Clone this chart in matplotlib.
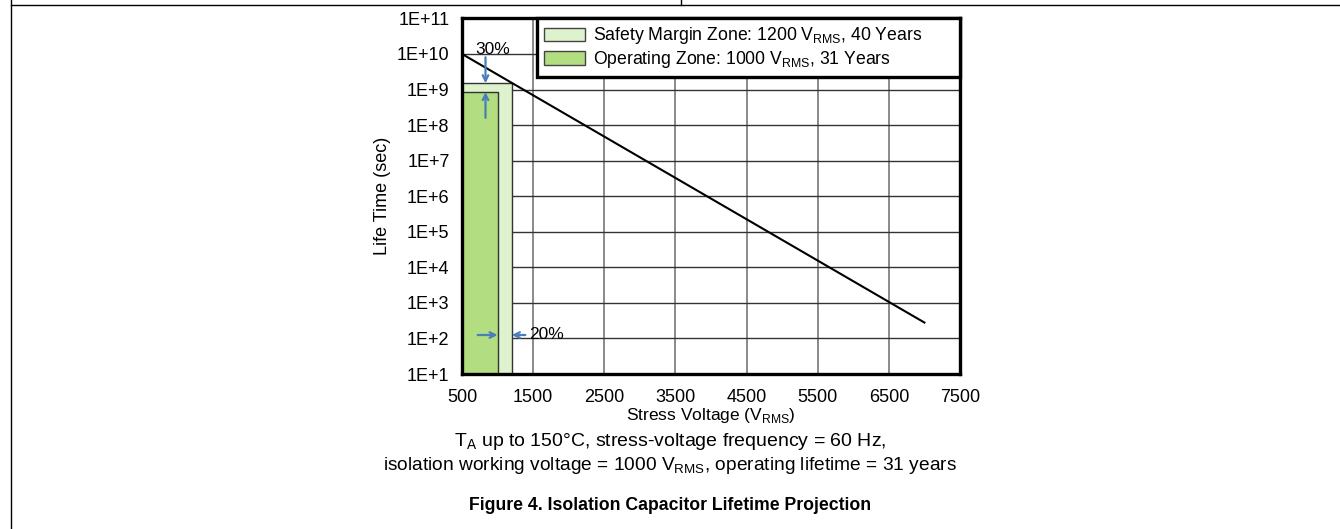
import matplotlib
matplotlib.use("Agg")
import matplotlib.pyplot as plt
from matplotlib.patches import Patch
from matplotlib.lines import Line2D

plt.rcParams['font.family'] = ['Liberation Sans', 'DejaVu Sans']
plt.rcParams['mathtext.fontset'] = 'custom'
plt.rcParams['mathtext.rm'] = 'Liberation Sans'

# projected lifetime line (stress voltage in V_RMS, lifetime in seconds)
line_volts = [500, 7000]
line_life = [1e10, 2.8e2]

# zones drawn as filled boxes from the bottom of the axis
zone_names = ['Safety Margin Zone: 1200 V$_\\mathregular{RMS}$, 40 Years',
              'Operating Zone: 1000 V$_\\mathregular{RMS}$, 31 Years']
zone_volts = [1200, 1000]
zone_life = [1.5e9, 8.5e8]
zone_colors = ['#ddf2cd', '#b2dd80']

x_ticks = [500, 1500, 2500, 3500, 4500, 5500, 6500, 7500]
y_ticks = [1e1, 1e2, 1e3, 1e4, 1e5, 1e6, 1e7, 1e8, 1e9, 1e10, 1e11]
y_tick_labels = ['1E+1', '1E+2', '1E+3', '1E+4', '1E+5', '1E+6',
                 '1E+7', '1E+8', '1E+9', '1E+10', '1E+11']

fig = plt.figure(figsize=(13.4, 5.29), dpi=100)
ax = fig.add_axes([0.3448, 0.2930, 0.3716, 0.6722])
ax.set_yscale('log')
ax.set_xlim(500, 7500)
ax.set_ylim(1e1, 1e11)

# grid: grey verticals, dark horizontals
for xv in x_ticks[1:-1]:
    ax.axvline(xv, color='#8a8a8a', lw=1.4, zorder=1)
for yv in y_ticks[1:-1]:
    ax.axhline(yv, color='#333333', lw=1.0, zorder=1)

for v, life, c in zip(zone_volts, zone_life, zone_colors):
    ax.fill_between([500, v], 1e1, life, facecolor=c, edgecolor='#333333',
                    lw=1.0, zorder=2)

ax.plot(line_volts, line_life, color='black', lw=1.5, zorder=4)

arrow = dict(arrowstyle='->', color='#4a7ebb', lw=1.6, shrinkA=0, shrinkB=0)
ax.annotate('', xy=(830, zone_life[0]), xytext=(830, 8.1e9), arrowprops=arrow, zorder=5)
ax.annotate('', xy=(830, zone_life[1]), xytext=(830, 1.6e8), arrowprops=arrow, zorder=5)
ax.text(930, 1.3e10, '30%', ha='center', va='center', fontsize=12.5)
ax.annotate('', xy=(zone_volts[1], 125), xytext=(720, 125), arrowprops=arrow, zorder=5)
ax.annotate('', xy=(zone_volts[0], 125), xytext=(1390, 125), arrowprops=arrow, zorder=5)
ax.text(1450, 125, '20%', ha='left', va='center', fontsize=12.5)

ax.set_xticks(x_ticks)
ax.set_yticks(y_ticks)
ax.set_yticklabels(y_tick_labels)
ax.minorticks_off()
ax.tick_params(length=0, labelsize=13)
ax.tick_params(axis='x', pad=11)
ax.tick_params(axis='y', pad=9)
for s in ax.spines.values():
    s.set_linewidth(2.4)
    s.set_zorder(6)

ax.set_xlabel('Stress Voltage (V$_\\mathregular{RMS}$)', fontsize=12.5, labelpad=0)
ax.set_ylabel('Life Time (sec)', fontsize=13, labelpad=4)

handles = [Patch(facecolor=c, edgecolor='#444444', lw=1.0) for c in zone_colors]
leg = ax.legend(handles, zone_names, loc='upper left', mode='expand',
                bbox_to_anchor=(0.1506, 0.838, 0.8494, 0.162), borderaxespad=0,
                fontsize=12.7, fancybox=False, framealpha=1, edgecolor='black',
                handlelength=2.3, handleheight=0.8, labelspacing=0.15,
                borderpad=0.4, handletextpad=0.5)
leg.get_frame().set_linewidth(2.4)
leg.set_zorder(7)

fig.text(0.5, 1 - 441 / 529, 'T$_\\mathregular{A}$ up to 150°C, stress-voltage frequency = 60 Hz,',
         ha='center', va='center', fontsize=14)
fig.text(0.5, 1 - 466 / 529,
         'isolation working voltage = 1000 V$_\\mathregular{RMS}$, operating lifetime = 31 years',
         ha='center', va='center', fontsize=13.8)
fig.text(0.5, 1 - 505 / 529, 'Figure 4. Isolation Capacitor Lifetime Projection',
         ha='center', va='center', fontsize=12.7, fontweight='bold')

# page frame lines
fig.add_artist(Line2D([10.5 / 1340, 10.5 / 1340], [0, 1], color='black', lw=1))
fig.add_artist(Line2D([10.5 / 1340, 1], [1 - 5 / 529, 1 - 5 / 529], color='black', lw=1))
fig.add_artist(Line2D([681 / 1340, 681 / 1340], [1 - 5 / 529, 1], color='black', lw=1))

fig.savefig('out.png', dpi=100)
